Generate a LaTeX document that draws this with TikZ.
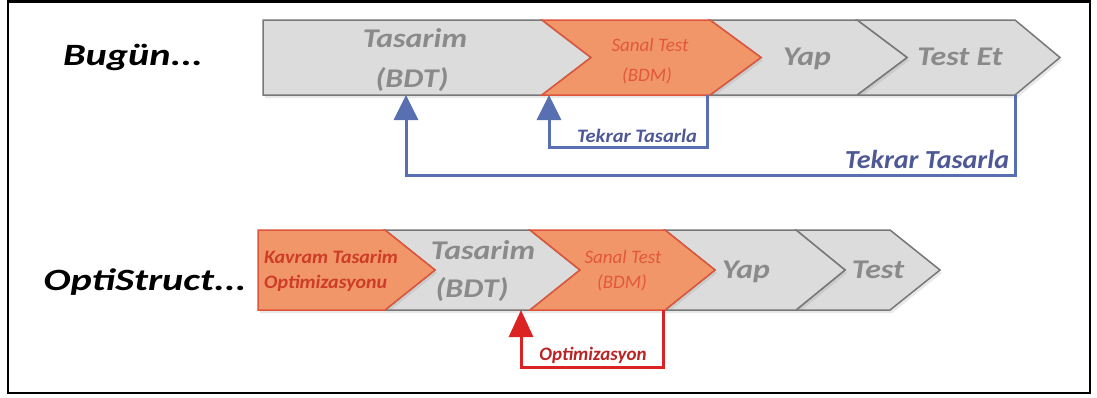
\documentclass[tikz,border=0pt]{standalone}
\usepackage{fontspec}
\setmainfont{Carlito}
\newfontfamily\widetitle[FakeStretch=1.3]{Carlito}
\newfontfamily\widebig[FakeStretch=1.18]{Carlito}
\newfontfamily\widesmall[FakeStretch=1.08]{Carlito}
\newfontfamily\widekav[FakeStretch=1.05]{Carlito}
\usetikzlibrary{arrows.meta,shadows}
\definecolor{grayfill}{RGB}{220,220,220}
\definecolor{grayline}{RGB}{120,120,120}
\definecolor{graytext}{RGB}{138,138,138}
\definecolor{orfill}{RGB}{241,150,104}
\definecolor{orline}{RGB}{222,85,60}
\definecolor{ortext}{RGB}{226,88,60}
\definecolor{kavtext}{RGB}{205,60,40}
\definecolor{bluel}{RGB}{88,112,178}
\definecolor{bluet}{RGB}{78,88,150}
\definecolor{redl}{RGB}{220,35,35}
\definecolor{redt}{RGB}{185,35,35}
\tikzset{
  shapeshadow/.style={drop shadow={opacity=0.18, shadow xshift=2pt, shadow yshift=-3pt}},
  grayshape/.style={shapeshadow, fill=grayfill, draw=grayline, line width=1.5pt, line join=miter},
  orshape/.style={shapeshadow, fill=orfill, draw=orline, line width=1.5pt, line join=miter},
  bigtxt/.style={text=graytext, font=\widebig\fontsize{27}{29}\selectfont\bfseries\itshape, inner sep=0pt},
  smalltxt/.style={text=ortext, font=\fontsize{19}{21}\selectfont\itshape, inner sep=0pt},
  kavtxt/.style={text=kavtext, font=\widekav\fontsize{19}{21}\selectfont\bfseries\itshape, inner sep=0pt, anchor=west},
  titletxt/.style={text=black, font=\widetitle\fontsize{31}{33}\selectfont\bfseries\itshape, inner sep=0pt},
  bluelabel/.style={text=bluet, font=\widesmall\fontsize{19}{21}\selectfont\bfseries\itshape, inner sep=0pt},
  bluebig/.style={text=bluet, font=\widesmall\fontsize{26}{28}\selectfont\bfseries\itshape, inner sep=0pt},
  redlabel/.style={text=redt, font=\fontsize{19}{21}\selectfont\bfseries\itshape, inner sep=0pt},
  blueloop/.style={draw=bluel, line width=3pt, line join=miter, -{Triangle[width=24pt,length=25pt]}},
  redloop/.style={draw=redl, line width=3pt, line join=miter, -{Triangle[width=24pt,length=27pt]}},
}
\begin{document}
\begin{tikzpicture}[x=1pt,y=-1pt]
\useasboundingbox (0,0) rectangle (1097,397);
\draw[line width=2.5pt] (8,1.5) rectangle (1090,393);

% ---------- top row ----------
\coordinate (a1) at (263,20); \coordinate (a2) at (263,95);
\coordinate (b1) at (542,20); \coordinate (b2) at (542,95); \coordinate (bm) at (591,57.5);
\coordinate (c1) at (710,20); \coordinate (c2) at (710,95); \coordinate (cm) at (761,57.5);
\coordinate (d1) at (857,20); \coordinate (d2) at (857,95); \coordinate (dm) at (907,57.5);
\coordinate (e1) at (1015,20); \coordinate (e2) at (1015,95); \coordinate (em) at (1060,57.5);

\path[grayshape] (d1) -- (e1) -- (em) -- (e2) -- (d2) -- (dm) -- cycle;
\path[grayshape] (c1) -- (d1) -- (dm) -- (d2) -- (c2) -- (cm) -- cycle;
\path[grayshape] (a1) -- (b1) -- (bm) -- (b2) -- (a2) -- cycle;
\path[orshape] (b1) -- (c1) -- (cm) -- (c2) -- (b2) -- (bm) -- cycle;

\node[titletxt] (bugun) at (133,57) {Bugün...};
\node[bigtxt] (tas1) at (415,38) {Tasarim};
\node[bigtxt] (bdt1) at (412,80) {(BDT)};
\node[smalltxt] (san1) at (650,45) {Sanal Test};
\node[smalltxt] (bdm1) at (647,76) {(BDM)};
\node[bigtxt] (yap1) at (807,59) {Yap};
\node[bigtxt] (tst1) at (960,57) {Test Et};

\coordinate (s1top) at (549,95);
\coordinate (s1end) at (707,95);
\coordinate (s1bl) at (549,147);
\coordinate (s1br) at (707,147);
\coordinate (l1top) at (406,95);
\coordinate (l1end) at (1015,95);
\coordinate (l1bl) at (406,175);
\coordinate (l1br) at (1015,175);
\draw[blueloop] (s1end) -- (s1br) -- (s1bl) -- (s1top);
\draw[blueloop] (l1end) -- (l1br) -- (l1bl) -- (l1top);
\node[bluelabel] (tk1) at (637,136) {Tekrar Tasarla};
\node[bluebig] (tk2) at (927,159) {Tekrar Tasarla};

% ---------- bottom row ----------
\coordinate (f1) at (258,230); \coordinate (f2) at (258,310);
\coordinate (g1) at (385,230); \coordinate (g2) at (385,310); \coordinate (gm) at (435,270);
\coordinate (h1) at (530,230); \coordinate (h2) at (530,310); \coordinate (hm) at (580,270);
\coordinate (i1) at (665,230); \coordinate (i2) at (665,310); \coordinate (im) at (715,270);
\coordinate (j1) at (796,230); \coordinate (j2) at (796,310); \coordinate (jm) at (845,270);
\coordinate (k1) at (890,230); \coordinate (k2) at (890,310); \coordinate (km) at (940,270);

\path[grayshape] (j1) -- (k1) -- (km) -- (k2) -- (j2) -- (jm) -- cycle;
\path[grayshape] (i1) -- (j1) -- (jm) -- (j2) -- (i2) -- (im) -- cycle;
\path[grayshape] (g1) -- (h1) -- (hm) -- (h2) -- (g2) -- (gm) -- cycle;
\path[orshape] (h1) -- (i1) -- (im) -- (i2) -- (h2) -- (hm) -- cycle;
\path[orshape] (f1) -- (g1) -- (gm) -- (g2) -- (f2) -- cycle;

\node[titletxt] (opti) at (145,282) {OptiStruct...};
\node[kavtxt] (kav1) at (264,257) {Kavram Tasarim};
\node[kavtxt] (kav2) at (264,283) {Optimizasyonu};
\node[bigtxt] (tas2) at (483,250) {Tasarim};
\node[bigtxt] (bdt2) at (472,290) {(BDT)};
\node[smalltxt] (san2) at (623,257) {Sanal Test};
\node[smalltxt] (bdm2) at (622,283) {(BDM)};
\node[bigtxt] (yap2) at (746,272) {Yap};
\node[bigtxt] (tst2) at (878,270) {Test};

\coordinate (r2top) at (521,310);
\coordinate (r2end) at (663,310);
\coordinate (r2bl) at (521,367);
\coordinate (r2br) at (663,367);
\draw[redloop] (r2end) -- (r2br) -- (r2bl) -- (r2top);
\node[redlabel] (opt) at (593,355) {Optimizasyon};
\end{tikzpicture}
\end{document}
